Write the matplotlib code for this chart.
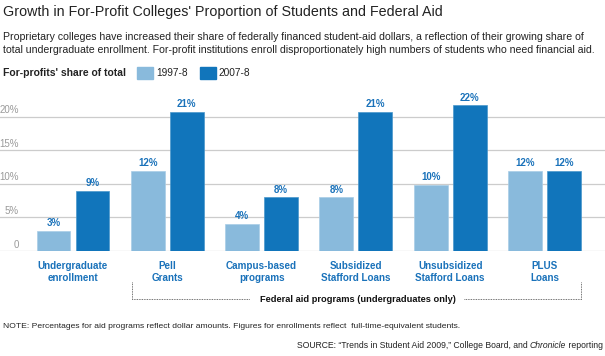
import matplotlib
matplotlib.use("Agg")
import matplotlib.pyplot as plt
import numpy as np

plt.rcParams['font.family'] = ['Liberation Sans', 'DejaVu Sans']

categorias = ["Undergraduate\nenrollment", "Pell\nGrants", "Campus-based\nprograms",
              "Subsidized\nStafford Loans", "Unsubsidized\nStafford Loans", "PLUS\nLoans"]
serie_1997 = [3.0, 11.9, 4.0, 8.0, 9.9, 11.9]
serie_2007 = [8.9, 20.7, 8.0, 20.7, 21.7, 11.9]
etiquetas_1997 = ["3%", "12%", "4%", "8%", "10%", "12%"]
etiquetas_2007 = ["9%", "21%", "8%", "21%", "22%", "12%"]
ticks_y = [0, 5, 10, 15, 20]
ticks_etiquetas = ["0", "5%", "10%", "15%", "20%"]

claro = "#89BADC"
oscuro = "#1175BB"
azul_texto = "#1A72BA"
W, H = 605, 356


def fx(x):
    return x / W


def fy(y):
    return 1 - y / H


fig = plt.figure(figsize=(W / 100, H / 100), dpi=100)

# ejes: x ocupa todo el ancho, cero en y=251px
ax = fig.add_axes([0, fy(251), 1, fy(100) - fy(251)])
ax.set_xlim(-73 / 94.3, (605 - 73) / 94.3)
ax.set_ylim(0, 22.5)
ax.axis("off")

for t in ticks_y:
    ax.axhline(t, color="#cccccc", lw=0.9, zorder=0)

x = np.arange(len(categorias))
ancho = 0.36
desp = 0.207
ax.bar(x - desp, serie_1997, ancho, color=claro, edgecolor="#a9cde6", linewidth=0.5, zorder=2)
ax.bar(x + desp, serie_2007, ancho, color=oscuro, edgecolor="#4a97cc", linewidth=0.5, zorder=2)

for i in range(len(categorias)):
    ax.annotate(etiquetas_1997[i], (x[i] - desp, serie_1997[i]), xytext=(0, 2),
                textcoords="offset points", ha="center", va="bottom",
                fontsize=7, fontweight="bold", color=azul_texto)
    ax.annotate(etiquetas_2007[i], (x[i] + desp, serie_2007[i]), xytext=(0, 2),
                textcoords="offset points", ha="center", va="bottom",
                fontsize=7, fontweight="bold", color=azul_texto)
    ax.annotate(categorias[i], (x[i], 0), xytext=(0, -7), textcoords="offset points",
                ha="center", va="top", fontsize=7.1, fontweight="bold",
                color=azul_texto, linespacing=1.25)

for t, lab in zip(ticks_y, ticks_etiquetas):
    fig.text(fx(19), fy(251 - t * 6.71 - 1.5), lab, ha="right", va="bottom",
             fontsize=7, color="#9a9a9a")

# titulo y subtitulo
fig.text(fx(3), fy(12), "Growth in For-Profit Colleges' Proportion of Students and Federal Aid",
         ha="left", va="center", fontsize=10.25, color="#222222")
fig.text(fx(3), fy(37), "Proprietary colleges have increased their share of federally financed "
         "student-aid dollars, a reflection of their growing share of",
         ha="left", va="center", fontsize=7.6, color="#222222")
fig.text(fx(3), fy(50), "total undergraduate enrollment. For-profit institutions enroll "
         "disproportionately high numbers of students who need financial aid.",
         ha="left", va="center", fontsize=7.6, color="#222222")

# leyenda
fig.text(fx(3), fy(73), "For-profits' share of total", ha="left", va="center",
         fontsize=7.5, fontweight="bold", color="#222222")
fig.patches.append(plt.Rectangle((fx(137), fy(79)), fx(16), fy(67) - fy(79),
                                 transform=fig.transFigure, color=claro))
fig.text(fx(156), fy(73), "1997-8", ha="left", va="center", fontsize=7.3, color="#222222")
fig.patches.append(plt.Rectangle((fx(200), fy(79)), fx(16), fy(67) - fy(79),
                                 transform=fig.transFigure, color=oscuro))
fig.text(fx(218), fy(73), "2007-8", ha="left", va="center", fontsize=7.3, color="#222222")

# corchete de programas federales
estilo = dict(color="#444444", lw=0.6, linestyle=(0, (1, 1)), transform=fig.transFigure)
fig.add_artist(plt.Line2D([fx(131.5), fx(131.5), fx(250)], [fy(282), fy(299), fy(299)], **estilo))
fig.add_artist(plt.Line2D([fx(464), fx(580.5), fx(580.5)], [fy(299), fy(299), fy(282)], **estilo))
fig.text(fx(358), fy(299), "Federal aid programs (undergraduates only)", ha="center",
         va="center", fontsize=6.7, fontweight="bold", color="#111111")

# notas
fig.text(fx(3), fy(327), "NOTE: Percentages for aid programs reflect dollar amounts. "
         "Figures for enrollments reflect  full-time-equivalent students.",
         ha="left", va="center", fontsize=6.1, color="#222222")

partes = [("SOURCE: \u201cTrends in Student Aid 2009,\u201d College Board, and ", "normal"),
          ("Chronicle", "italic"), (" reporting", "normal")]
renderer = fig.canvas.get_renderer()
textos = [fig.text(0, fy(345), p, ha="left", va="center", fontsize=6.2, color="#222222",
                   style=s) for p, s in partes]
anchos = [t.get_window_extent(renderer).width for t in textos]
xi = 603 - sum(anchos)
for t, w in zip(textos, anchos):
    t.set_x(fx(xi))
    xi += w

fig.savefig("out.png", dpi=100)
